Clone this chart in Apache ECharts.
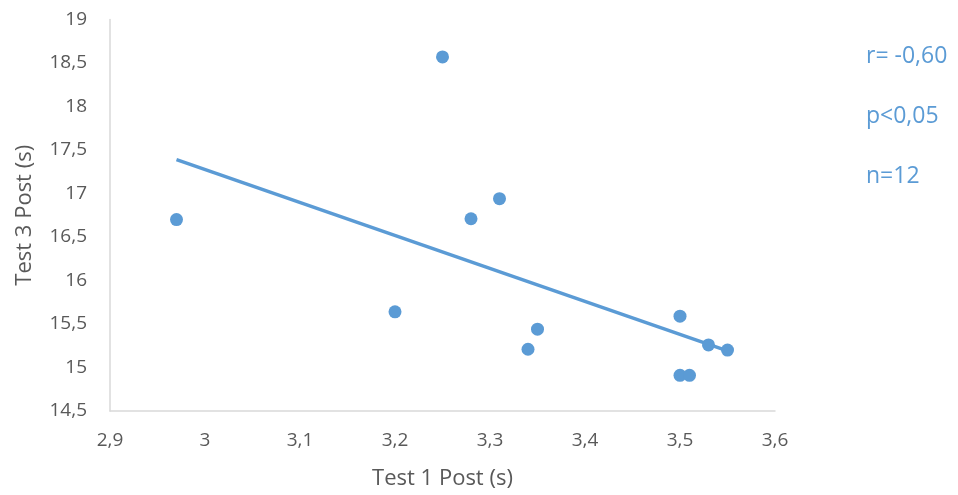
<!DOCTYPE html>
<html>
<head>
<meta charset="utf-8">
<script src="https://cdn.jsdelivr.net/npm/echarts@6/dist/echarts.min.js"></script>
<style>html,body{margin:0;padding:0;background:#fff}#c{width:958px;height:495px}</style>
</head>
<body>
<div id="c"></div>
<script>
const xValues = [3.25, 2.97, 3.20, 3.28, 3.31, 3.35, 3.34, 3.50, 3.53, 3.55, 3.50, 3.51];
const yValues = [18.57, 16.70, 15.64, 16.71, 16.94, 15.44, 15.21, 15.59, 15.26, 15.20, 14.91, 14.91];
const trendX = [2.97, 3.55];
const trendY = [17.39, 15.19];
const statsLines = ['r= -0,60', 'p<0,05', 'n=12'];
const xTitle = 'Test 1 Post (s)';
const yTitle = 'Test 3 Post (s)';

const font = '"Open Sans", "Liberation Sans", sans-serif';
const blue = '#5b9bd5';
const fmt = v => String(Math.round(v * 10) / 10).replace('.', ',');

const chart = echarts.init(document.getElementById('c'));
chart.setOption({
  animation: false,
  grid: { left: 110, right: 183, top: 19.5, bottom: 80 },
  xAxis: {
    type: 'value', min: 2.9, max: 3.6, interval: 0.1,
    name: xTitle, nameLocation: 'middle', nameGap: 57,
    nameTextStyle: { fontFamily: font, fontSize: 22, color: '#595959' },
    axisLine: { show: true, onZero: false, lineStyle: { color: '#d9d9d9', width: 1.5 } },
    axisTick: { show: false },
    splitLine: { show: false },
    axisLabel: { formatter: fmt, fontFamily: font, fontSize: 19, color: '#595959', margin: 20 }
  },
  yAxis: {
    type: 'value', min: 14.5, max: 19, interval: 0.5,
    name: yTitle, nameLocation: 'middle', nameGap: 74, nameRotate: 90,
    nameTextStyle: { fontFamily: font, fontSize: 22, color: '#595959' },
    axisLine: { show: true, onZero: false, lineStyle: { color: '#d9d9d9', width: 1.5 } },
    axisTick: { show: false },
    splitLine: { show: false },
    axisLabel: { formatter: fmt, fontFamily: font, fontSize: 19, color: '#595959', margin: 23 }
  },
  series: [
    {
      type: 'line',
      data: trendX.map((x, i) => [x, trendY[i]]),
      symbol: 'none',
      lineStyle: { color: blue, width: 3.5 },
      z: 2
    },
    {
      type: 'scatter',
      data: xValues.map((x, i) => [x, yValues[i]]),
      symbolSize: 13,
      itemStyle: { color: blue, opacity: 1 },
      z: 3
    }
  ],
  graphic: statsLines.map((t, i) => ({
    type: 'text', x: 866, y: [56, 116, 176][i],
    style: { text: t, fontFamily: font, fontSize: 23, fill: blue, verticalAlign: 'middle' }
  }))
});
</script>
</body>
</html>
